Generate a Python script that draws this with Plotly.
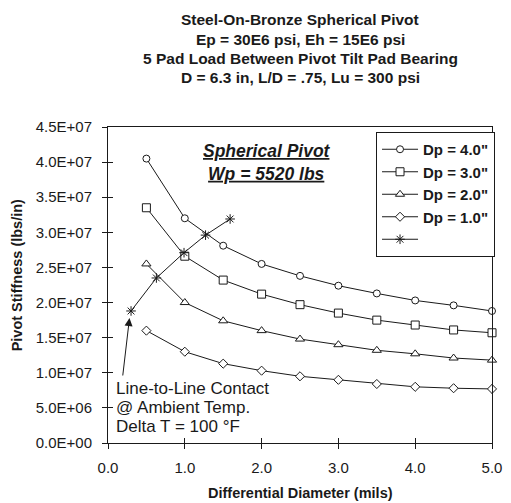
import plotly.graph_objects as go

# ---- data ----
x_dp = [0.5, 1.0, 1.5, 2.0, 2.5, 3.0, 3.5, 4.0, 4.5, 5.0]
dp40 = [4.05e7, 3.20e7, 2.81e7, 2.55e7, 2.38e7, 2.24e7, 2.13e7, 2.03e7, 1.96e7, 1.88e7]
dp30 = [3.35e7, 2.66e7, 2.32e7, 2.12e7, 1.97e7, 1.85e7, 1.75e7, 1.68e7, 1.61e7, 1.57e7]
dp20 = [2.55e7, 2.00e7, 1.74e7, 1.60e7, 1.48e7, 1.40e7, 1.32e7, 1.27e7, 1.21e7, 1.18e7]
dp10 = [1.60e7, 1.30e7, 1.13e7, 1.03e7, 9.5e6, 9.0e6, 8.4e6, 8.0e6, 7.8e6, 7.7e6]
x_contact = [0.30, 0.63, 0.99, 1.27, 1.59]
y_contact = [1.88e7, 2.35e7, 2.71e7, 2.96e7, 3.19e7]

series_names = ['Dp = 4.0"', 'Dp = 3.0"', 'Dp = 2.0"', 'Dp = 1.0"', ' ']
x_ticks = [0, 1, 2, 3, 4, 5]
x_tick_labels = ["0.0", "1.0", "2.0", "3.0", "4.0", "5.0"]
y_ticks = [0, 5e6, 1e7, 1.5e7, 2e7, 2.5e7, 3e7, 3.5e7, 4e7, 4.5e7]
y_tick_labels = ["0.0E+00", "5.0E+06", "1.0E+07", "1.5E+07", "2.0E+07",
                 "2.5E+07", "3.0E+07", "3.5E+07", "4.0E+07", "4.5E+07"]
title_lines = ["Steel-On-Bronze Spherical Pivot",
               "Ep = 30E6 psi, Eh = 15E6 psi",
               "5 Pad Load Between Pivot Tilt Pad Bearing",
               "D = 6.3 in, L/D = .75, Lu = 300 psi"]
note_lines = ["Line-to-Line Contact", "@ Ambient Temp.", "Delta T = 100 °F"]

FONT = "Liberation Sans, Arial, sans-serif"
INK = "#1a1a1a"

W, H = 511, 503
ML, MR, MT, MB = 108, 9, 127, 60
PW = W - ML - MR
PH = H - MT - MB

def py2paper(py):
    return (H - MB - py) / PH

def px2paper(px):
    return (px - ML) / PW

fig = go.Figure()

styles = [
    (dp40, "circle", 7),
    (dp30, "square", 8),
    (dp20, "triangle-up", 8),
    (dp10, "diamond", 7),
]
for (ys, sym, sz), name in zip(styles, series_names[:4]):
    fig.add_trace(go.Scatter(
        x=x_dp, y=ys, name="<b>" + name + "</b>", mode="lines+markers",
        line=dict(color=INK, width=1),
        marker=dict(symbol=sym, size=sz, color="white",
                    line=dict(color=INK, width=1)),
        cliponaxis=False,
    ))

fig.add_trace(go.Scatter(
    x=x_contact, y=y_contact, name=series_names[4], mode="lines+markers",
    line=dict(color=INK, width=1),
    marker=dict(symbol="asterisk-open", size=8, color=INK,
                line=dict(color=INK, width=1)),
    cliponaxis=False,
))

# invisible trace to activate overlay axes (for crossing ticks)
fig.add_trace(go.Scatter(x=[], y=[], xaxis="x2", yaxis="y2",
                         showlegend=False, hoverinfo="skip"))

tickfont = dict(family=FONT, size=15, color=INK)
fig.update_layout(
    width=W, height=H, autosize=False,
    margin=dict(l=ML, r=MR, t=MT, b=MB),
    paper_bgcolor="white", plot_bgcolor="white",
    font=dict(family=FONT, color=INK),
    xaxis=dict(range=[0, 5], tickvals=x_ticks, ticktext=x_tick_labels,
               ticks="outside", ticklen=5, tickcolor=INK, tickwidth=1,
               showline=True, linecolor=INK, linewidth=1, mirror=True,
               showgrid=False, zeroline=False, tickfont=tickfont,
               ticklabeloverflow="allow", ticklabelstandoff=6),
    yaxis=dict(range=[0, 4.5e7], tickvals=y_ticks, ticktext=y_tick_labels,
               ticks="outside", ticklen=5, tickcolor=INK, tickwidth=1,
               showline=True, linecolor=INK, linewidth=1, mirror=True,
               showgrid=False, zeroline=False, tickfont=tickfont,
               ticklabelstandoff=7),
    xaxis2=dict(overlaying="x", matches="x", anchor="y2", side="bottom",
                tickvals=x_ticks, ticks="inside", ticklen=5, tickcolor=INK,
                showticklabels=False, showline=False, showgrid=False, zeroline=False),
    yaxis2=dict(overlaying="y", matches="y", anchor="x2", side="left",
                tickvals=y_ticks, ticks="inside", ticklen=5, tickcolor=INK,
                showticklabels=False, showline=False, showgrid=False, zeroline=False),
    legend=dict(x=px2paper(383), y=py2paper(132),
                xanchor="left", yanchor="top",
                bordercolor=INK, borderwidth=1, bgcolor="white",
                font=dict(family=FONT, size=15, color=INK),
                itemwidth=36, tracegroupgap=0),
    showlegend=True,
)

annots = []
for i, line in enumerate(title_lines):
    annots.append(dict(text="<b>" + line + "</b>", xref="paper", yref="paper",
                       x=0.5, y=py2paper(20 + i * 19.3), xanchor="center",
                       yanchor="middle", showarrow=False,
                       font=dict(family=FONT, size=15.5, color=INK)))
annots.append(dict(text="<b>Differential Diameter (mils)</b>", xref="paper",
                   yref="paper", x=0.5, y=py2paper(493), xanchor="center",
                   yanchor="middle", showarrow=False,
                   font=dict(family=FONT, size=14.5, color=INK)))
annots.append(dict(text="<b>Pivot Stiffness (lbs/in)</b>", xref="paper",
                   yref="paper", x=px2paper(15), y=py2paper(275),
                   xanchor="center", yanchor="middle", textangle=-90,
                   showarrow=False, font=dict(family=FONT, size=14.5, color=INK)))
annots.append(dict(text="<b><i><u>Spherical Pivot</u></i></b><br><b><i><u>Wp = 5520 lbs</u></i></b>",
                   xref="paper", yref="paper", x=px2paper(271), y=py2paper(162.5),
                   xanchor="center", yanchor="middle", showarrow=False,
                   font=dict(family=FONT, size=17.5, color=INK)))
for i, line in enumerate(note_lines):
    annots.append(dict(text=line, xref="paper", yref="paper",
                       x=px2paper(114), y=py2paper(388 + i * 19), xanchor="left",
                       yanchor="middle", align="left", showarrow=False,
                       font=dict(family=FONT, size=17, color=INK)))
annots.append(dict(text="", xref="x", yref="y", x=x_contact[0] - 0.02,
                   y=y_contact[0] - 1.0e6, axref="x", ayref="y",
                   ax=0.19, ay=9.4e6, showarrow=True, arrowhead=2,
                   arrowsize=1.6, arrowwidth=1, arrowcolor=INK))
fig.update_layout(annotations=annots)

fig.write_html("out.html", config={"displayModeBar": False},
               post_script="document.body.style.margin='0';document.body.style.overflow='hidden';")
